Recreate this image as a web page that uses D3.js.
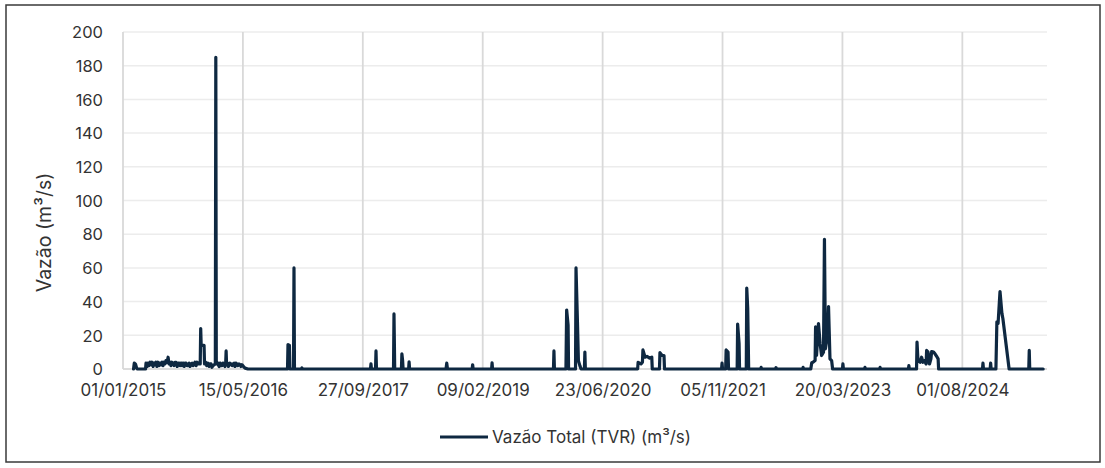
<!DOCTYPE html>
<html><head><meta charset="utf-8">
<script src="https://cdn.jsdelivr.net/npm/d3@7"></script>
<style>html,body{margin:0;padding:0;background:#fff;}svg{display:block;}</style>
</head><body>
<svg id="chart" width="1105" height="468"></svg>
<script>
// ---- DATA ----
const startDate = "01/01/2015";
const endDaysSinceStart = 3853;
const xTickLabels = ["01/01/2015","15/05/2016","27/09/2017","09/02/2019","23/06/2020","05/11/2021","20/03/2023","01/08/2024"];
const yTickValues = [0,20,40,60,80,100,120,140,160,180,200];
const seriesName = "Vazão Total (TVR) (m³/s)";
const yTitle = "Vazão (m³/s)";
// days since 01/01/2015
const daysSinceStart = [
 44,47,52,57,60,94,96,101,104,108,113,117,121,126,129,133,137,141,146,150,154,158,163,167,171,175,179,184,188,192,196,200,204,208,213,217,221,226,230,234,238,242,246,250,255,259,263,267,271,276,280,284,288,292,296,300,305,309,314,318,322,324,326,338,340,345,349,354,359,363,367,371,375,385,387,389,392,396,401,405,409,413,417,421,425,428,430,432,436,440,446,450,455,459,463,467,471,475,479,484,488,492,496,500,505,509,521,
 686,688,694,696,711,713,715,744,746,748,
 1032,1034,1036,1053,1055,1057,1128,1130,1133,1161,1163,1166,1168,1191,1193,1195,
 1347,1350,1353,1456,1458,1460,1537,1539,1541,
 1795,1797,1799,1847,1850,1856,1858,1887,1889,1895,1899,1905,1910,1924,1926,1928,
 2146,2148,2160,2166,2168,2177,2185,2196,2205,2207,2237,2239,2248,2256,2258,
 2496,2498,2500,2513,2515,2523,2525,2561,2563,2569,2571,2599,2601,2605,2609,2659,2661,2663,2721,2723,2725,2834,2836,2838,
 2868,2872,2877,2886,2888,2892,2900,2907,2913,2921,2925,2929,2938,2942,2948,2955,2959,3000,3002,3004,3092,3094,3096,3155,3157,3159,
 3275,3277,3279,3309,3311,3315,3324,3330,3336,3342,3349,3351,3357,3363,3369,3372,3380,3386,3395,3399,3401,
 3584,3586,3588,3616,3618,3620,3640,3644,3649,3657,3665,3669,3695,3777,3779,3781,3837
];
const flowValues = [
 0,3.5,3,0.5,0,0,3.5,1.5,3.5,2,4,2.5,4,1.5,3.5,3,4,1.5,4,2,3.5,2.5,4,2,4,3,5,4,7,3,4,2,4,3.5,2,4,4,1.5,3.5,3.5,2,3.5,2,3.5,1.5,3.5,3.5,2,2,3.5,1.5,3,3.5,2,2.5,4,2,4,3,3,3,24,14,14,3,4,2,3.5,1.5,3,3,1,2,3,185,3,4,3,1.5,3.5,2,2,3.5,3,1.5,3,10.7,2.5,3.5,1.5,3.5,3,2,3,3.5,1.5,3.5,3,2,3,2.5,1.5,2.5,2,1,0.5,0,
 0,14.5,14,0,0,60,0,0,0.6,0,
 0,3,0,0,10.7,0,0,32.7,0,0,9,5,0,0,4.3,0,
 0,3.5,0,0,2.5,0,0,3.7,0,
 0,10.7,0,0,35,26,0,0,60,28,5,2,0,0,10,0,
 0,4,3,4,11.3,7,7.5,6.5,7,0,0,9.7,8,8,0,
 0,3.5,0,0,11.3,10,0,0,26.7,15,0,0,48,36,0,0,1,0,0,0.8,0,0,1,0,
 0,3.7,4,5,25,8,27,15,8,10,77,12,20,37,6,5,0,0,3,0,0,1,0,0,1,0,
 0,2,0,0,16,5,4,7,4,5,3,11,10,3,6,10.3,10,9,7,6,0,
 0,3.5,0,0,3.5,0,0,28,27,46,33,30,0,0,11,0,0
];

// ---- CHART ----
const svg = d3.select("#chart");
const parse = d3.utcParse("%d/%m/%Y");
const t0 = parse(startDate);
const data = daysSinceStart.map((d,i)=>({date:d3.utcDay.offset(t0,d), v:flowValues[i]}));

const mLeft=123, mRight=1047, mTop=32, mBottom=369;
const x = d3.scaleUtc().domain([t0, d3.utcDay.offset(t0,endDaysSinceStart)]).range([mLeft,mRight]);
const y = d3.scaleLinear().domain([0,200]).range([mBottom,mTop]);

const font = "Inter, 'Liberation Sans', Arial, sans-serif";

// frame
svg.append("rect").attr("x",6).attr("y",5).attr("width",1094).attr("height",457)
  .attr("fill","#fff").attr("stroke","#3a3a3a").attr("stroke-width",1.5);

// horizontal grid
svg.append("g").selectAll("line").data(yTickValues).join("line")
  .attr("x1",mLeft).attr("x2",mRight).attr("y1",d=>y(d)).attr("y2",d=>y(d))
  .attr("stroke",d=>d===0?"#d0d0d0":"#ececec").attr("stroke-width",1.5);

// vertical grid
const xTickDates = xTickLabels.map(parse);
svg.append("g").selectAll("line").data(xTickDates).join("line")
  .attr("x1",d=>x(d)).attr("x2",d=>x(d)).attr("y1",mTop).attr("y2",mBottom)
  .attr("stroke","#d9d9d9").attr("stroke-width",1.8);

// y axis labels
const yAxis = d3.axisLeft(y).tickValues(yTickValues).tickSize(0).tickPadding(0);
const gy = svg.append("g").attr("transform",`translate(${mLeft-20},0)`).call(yAxis);
gy.select(".domain").remove();
gy.selectAll("text").attr("font-family",font).attr("font-size",16.5).attr("fill","#333").attr("dy","0.35em");

// x axis labels
const xAxis = d3.axisBottom(x).tickValues(xTickDates).tickFormat(d3.utcFormat("%d/%m/%Y")).tickSize(0).tickPadding(0);
const gx = svg.append("g").attr("transform",`translate(0,${mBottom+15})`).call(xAxis);
gx.select(".domain").remove();
gx.selectAll("text").attr("font-family",font).attr("font-size",17).attr("fill","#333").attr("dy","0.71em");

// y title
svg.append("text").attr("transform",`translate(51,${(mTop+mBottom)/2+32}) rotate(-90)`)
  .attr("text-anchor","middle").attr("font-family",font).attr("font-size",19.5).attr("fill","#333").text(yTitle);

// line
const line = d3.line().x(d=>x(d.date)).y(d=>y(d.v)).curve(d3.curveLinear);
svg.append("path").datum(data).attr("d",line).attr("fill","none")
  .attr("stroke","#0e2841").attr("stroke-width",3.2).attr("stroke-linejoin","round").attr("stroke-linecap","round");

// legend
const lg = svg.append("g").attr("transform","translate(440,437)");
lg.append("line").attr("x1",0).attr("x2",48).attr("y1",0).attr("y2",0).attr("stroke","#0e2841").attr("stroke-width",3);
lg.append("text").attr("x",52).attr("y",0).attr("dy","0.35em").attr("font-family",font).attr("font-size",17).attr("fill","#333").text(seriesName);
</script>
</body></html>
